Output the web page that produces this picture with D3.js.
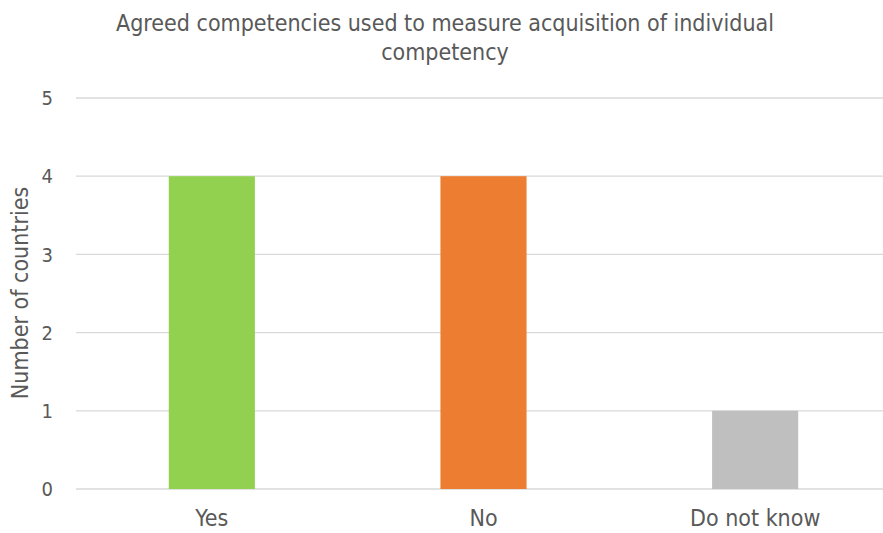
<!DOCTYPE html>
<html><head><meta charset="utf-8">
<script src="https://cdn.jsdelivr.net/npm/d3@7"></script>
<style>body{margin:0;background:#fff}svg{display:block}text{font-family:"DejaVu Sans Condensed","DejaVu Sans",sans-serif;fill:#595959}</style>
</head><body>
<script>
const categories = ["Yes", "No", "Do not know"];
const values = [4, 4, 1];
const colors = ["#92D050", "#ED7D31", "#BFBFBF"];
const yTicks = [0, 1, 2, 3, 4, 5];
const titleLines = ["Agreed competencies used to measure acquisition of individual", "competency"];
const yLabel = "Number of countries";

const W = 883, H = 533;
const svg = d3.select("body").append("svg").attr("width", W).attr("height", H);
const x = d3.scaleBand().domain(categories).range([76, 891]).paddingInner(0.683).paddingOuter(0.3415);
const y = d3.scaleLinear().domain([0, 5]).range([489, 98]);

svg.append("g").selectAll("line").data(yTicks).join("line")
  .attr("x1", 76).attr("x2", W).attr("y1", d => y(d)).attr("y2", d => y(d))
  .attr("stroke", "#D9D9D9").attr("stroke-width", 1.3);

svg.append("g").selectAll("rect").data(values).join("rect")
  .attr("x", (d, i) => x(categories[i])).attr("width", x.bandwidth())
  .attr("y", d => y(d)).attr("height", d => y(0) - y(d))
  .attr("fill", (d, i) => colors[i]);

svg.append("g").selectAll("text").data(yTicks).join("text")
  .attr("x", 53).attr("y", d => y(d)).attr("dy", "0.36em").attr("text-anchor", "end")
  .style("font-size", "20px").text(d => d);

svg.append("g").selectAll("text").data(categories).join("text")
  .attr("x", d => x(d) + x.bandwidth() / 2).attr("y", 526).attr("text-anchor", "middle")
  .style("font-size", "23px").text(d => d);

svg.append("text").attr("transform", "translate(28,293) rotate(-90)")
  .attr("text-anchor", "middle").style("font-size", "23px").text(yLabel);

svg.append("g").selectAll("text").data(titleLines).join("text")
  .attr("x", 445).attr("y", (d, i) => 31 + i * 29).attr("text-anchor", "middle")
  .style("font-size", "23px").text(d => d);
</script>
</body></html>
